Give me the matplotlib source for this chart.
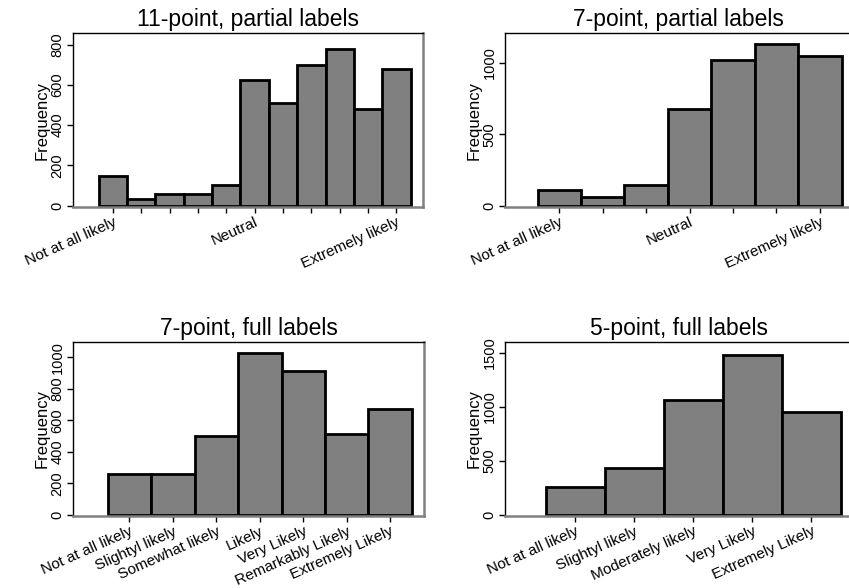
import matplotlib
matplotlib.use('Agg')
import matplotlib.pyplot as plt
import numpy as np

plt.rcParams['font.family'] = ['Liberation Sans', 'DejaVu Sans']

# bar heights
freq_11_partial = [145, 33, 58, 57, 100, 623, 511, 701, 778, 480, 678]
labels_11_partial = ['Not at all likely', '', '', '', '', 'Neutral', '', '', '', '', 'Extremely likely']

freq_7_partial = [111, 65, 144, 675, 1016, 1127, 1049]
labels_7_partial = ['Not at all likely', '', '', 'Neutral', '', '', 'Extremely likely']

freq_7_full = [260, 260, 503, 1030, 915, 516, 674]
labels_7_full = ['Not at all likely', 'Slightyl likely', 'Somewhat likely', 'Likely',
                 'Very Likely', 'Remarkably Likely', 'Extremely Likely']

freq_5_full = [256, 438, 1065, 1478, 957]
labels_5_full = ['Not at all likely', 'Slightyl likely', 'Moderately likely',
                 'Very Likely', 'Extremely Likely']

W, H = 849, 588
fig = plt.figure(figsize=(W / 100, H / 100), dpi=100)


def panel(box, title, freqs, labels, xlim, ylim, yticks):
    # box in pixels: left, top, right, bottom
    l, t, r, b = box
    ax = fig.add_axes([l / W, 1 - b / H, (r - l) / W, (b - t) / H])
    x = np.arange(len(freqs))
    ax.bar(x, freqs, width=1.0, color='#808080', edgecolor='black', linewidth=2.0)
    ax.set_xlim(*xlim)
    ax.set_ylim(*ylim)
    ax.set_xticks(x)
    ax.set_xticklabels(labels, rotation=24, ha='right', rotation_mode='anchor', fontsize=11)
    ax.set_yticks(yticks)
    ax.set_yticklabels([str(v) for v in yticks], rotation=90, va='center', fontsize=10.5)
    ax.tick_params(axis='both', direction='out', length=4, width=1, color='black', pad=2)
    ax.set_ylabel('Frequency', fontsize=12, labelpad=1)
    ax.set_title(title, fontsize=16.5, pad=5)
    for side in ['left', 'top']:
        ax.spines[side].set_color('black')
        ax.spines[side].set_linewidth(1.0)
    for side in ['right', 'bottom']:
        ax.spines[side].set_color('#808080')
        ax.spines[side].set_linewidth(1.8)
    return ax


panel((73, 33, 423, 207), '11-point, partial labels', freq_11_partial, labels_11_partial,
      (-1.41, 10.94), (-7, 858), [0, 200, 400, 600, 800])
panel((505, 33, 852, 207), '7-point, partial labels', freq_7_partial, labels_7_partial,
      (-1.25, 6.74), (-7, 1206), [0, 500, 1000])
panel((73, 342, 424, 516), '7-point, full labels', freq_7_full, labels_7_full,
      (-1.30, 6.78), (-8, 1098), [0, 200, 400, 600, 800, 1000])
panel((505, 342, 852, 516), '5-point, full labels', freq_5_full, labels_5_full,
      (-1.19, 4.69), (-11, 1602), [0, 500, 1000, 1500])

fig.savefig('out.png', dpi=100)
